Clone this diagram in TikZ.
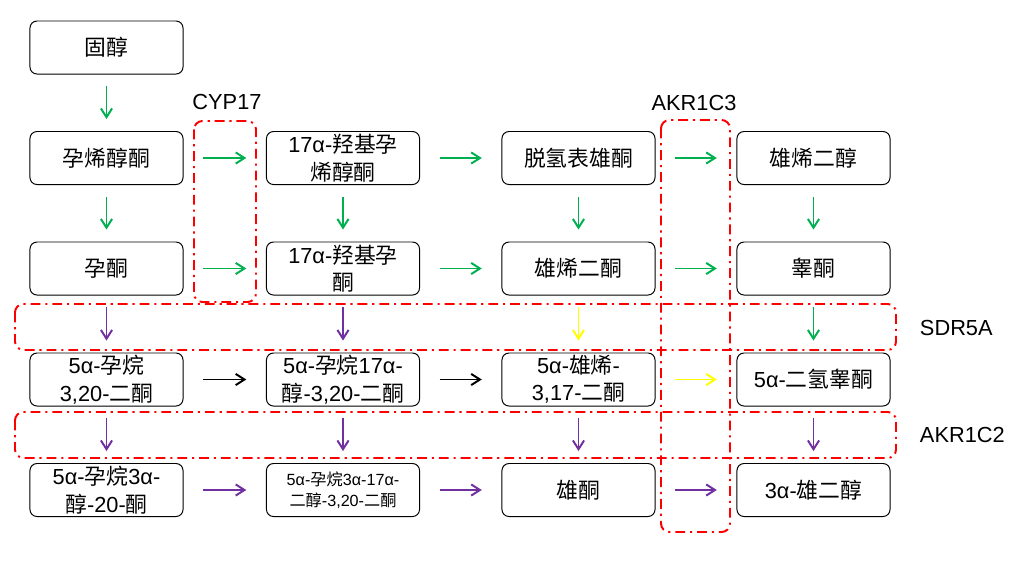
\documentclass[tikz,border=0pt]{standalone}
\usepackage{fontspec}
\setmainfont{Liberation Sans}
\newfontfamily\cjk{Noto Sans CJK SC}
\usetikzlibrary{arrows.meta, positioning}
\definecolor{pgreen}{HTML}{00B050}
\definecolor{ppurple}{HTML}{7030A0}
\definecolor{pyellow}{HTML}{FFFF00}
\definecolor{pred}{HTML}{FF0000}
\newcommand{\zh}[1]{{\cjk #1}}
\tikzset{
  >={Straight Barb[length=2.2mm,width=2.8mm]},
  font=\fontsize{15.5pt}{19.5pt}\selectfont,
  cmpd/.style={
    draw=black, fill=white, line width=0.7pt, rounded corners=5pt,
    align=center, inner sep=1pt, minimum width=3.825cm, minimum height=1.325cm
  },
  small/.style={font=\fontsize{11.5pt}{14.5pt}\selectfont},
  hstep/.style={->, line width=1.4pt, draw=#1, shorten <=14pt, shorten >=14pt},
  vstep/.style={->, line width=1.4pt, draw=#1, shorten <=8.5pt, shorten >=8.5pt},
  enzbox/.style={draw=pred, line width=1.4pt, rounded corners=6pt,
    dash pattern=on 7pt off 3.5pt on 1.5pt off 3.5pt},
  enz/.style={font=\fontsize{15.5pt}{19pt}\selectfont}
}
\begin{document}
\begin{tikzpicture}[x=0.025cm, y=-0.025cm]
  \useasboundingbox (0,0) rectangle (1026,560);

  % enzyme regions
  \draw[enzbox] (194,121) rectangle (256,302);
  \draw[enzbox] (661,120) rectangle (730,532);
  \draw[enzbox] (15,304) rectangle (896,350);
  \draw[enzbox] (15,412) rectangle (896,458);
  \node[enz] (cyp) at (227,102) {CYP17};
  \node[enz] (akr3) at (694,103) {AKR1C3};
  \node[enz,anchor=west] (sdr) at (915,328) {SDR5A};
  \node[enz,anchor=west] (akr2) at (915,435) {AKR1C2};

  % compounds
  \node[cmpd] (chol) at (106.5,47.5) {\zh{固醇}};

  \node[cmpd] (preg5) at (106.5,158) {\zh{孕烯醇酮}};
  \node[cmpd] (ohpreg5) at (343,158) {17α-\zh{羟基孕}\\\zh{烯醇酮}};
  \node[cmpd] (dhea) at (578.5,158) {\zh{脱氢表雄酮}};
  \node[cmpd] (adiol) at (813.5,158) {\zh{雄烯二醇}};

  \node[cmpd] (prog) at (106.5,268.5) {\zh{孕酮}};
  \node[cmpd] (ohprog) at (343,268.5) {17α-\zh{羟基孕}\\\zh{酮}};
  \node[cmpd] (adione) at (578.5,268.5) {\zh{雄烯二酮}};
  \node[cmpd] (testo) at (813.5,268.5) {\zh{睾酮}};

  \node[cmpd] (pdione) at (106.5,379.5) {5α-\zh{孕烷}\\3,20-\zh{二酮}};
  \node[cmpd] (ohpdione) at (343,379.5) {5α-\zh{孕烷}17α-\\\zh{醇}-3,20-\zh{二酮}};
  \node[cmpd] (adione5) at (578.5,379.5) {5α-\zh{雄烯}-\\3,17-\zh{二酮}};
  \node[cmpd] (dht) at (813.5,379.5) {5α-\zh{二氢睾酮}};

  \node[cmpd] (polone) at (106.5,490) {5α-\zh{孕烷}3α-\\\zh{醇}-20-\zh{酮}};
  \node[cmpd,small] (pdiol) at (343,490) {5α-\zh{孕烷}3α-17α-\\\zh{二醇}-3,20-\zh{二酮}};
  \node[cmpd] (andro) at (578.5,490) {\zh{雄酮}};
  \node[cmpd] (adiol3) at (813.5,490) {3α-\zh{雄二醇}};

  % green steps
  \draw[vstep=pgreen] (chol) -- (preg5);
  \draw[vstep=pgreen] (preg5) -- (prog);
  \draw[vstep=pgreen] (ohpreg5) -- (ohprog);
  \draw[vstep=pgreen] (dhea) -- (adione);
  \draw[vstep=pgreen] (adiol) -- (testo);
  \draw[hstep=pgreen] (preg5) -- (ohpreg5);
  \draw[hstep=pgreen] (ohpreg5) -- (dhea);
  \draw[hstep=pgreen] (dhea) -- (adiol);
  \draw[hstep=pgreen] (prog) -- (ohprog);
  \draw[hstep=pgreen] (ohprog) -- (adione);
  \draw[hstep=pgreen] (adione) -- (testo);

  % SDR5A
  \draw[vstep=ppurple] (prog) -- (pdione);
  \draw[vstep=ppurple] (ohprog) -- (ohpdione);
  \draw[vstep=pyellow] (adione) -- (adione5);
  \draw[vstep=pgreen] (testo) -- (dht);
  \draw[hstep=black] (pdione) -- (ohpdione);
  \draw[hstep=black] (ohpdione) -- (adione5);
  \draw[hstep=pyellow] (adione5) -- (dht);

  % AKR1C2
  \draw[vstep=ppurple] (pdione) -- (polone);
  \draw[vstep=ppurple] (ohpdione) -- (pdiol);
  \draw[vstep=ppurple] (adione5) -- (andro);
  \draw[vstep=ppurple] (dht) -- (adiol3);
  \draw[hstep=ppurple] (polone) -- (pdiol);
  \draw[hstep=ppurple] (pdiol) -- (andro);
  \draw[hstep=ppurple] (andro) -- (adiol3);
\end{tikzpicture}
\end{document}
